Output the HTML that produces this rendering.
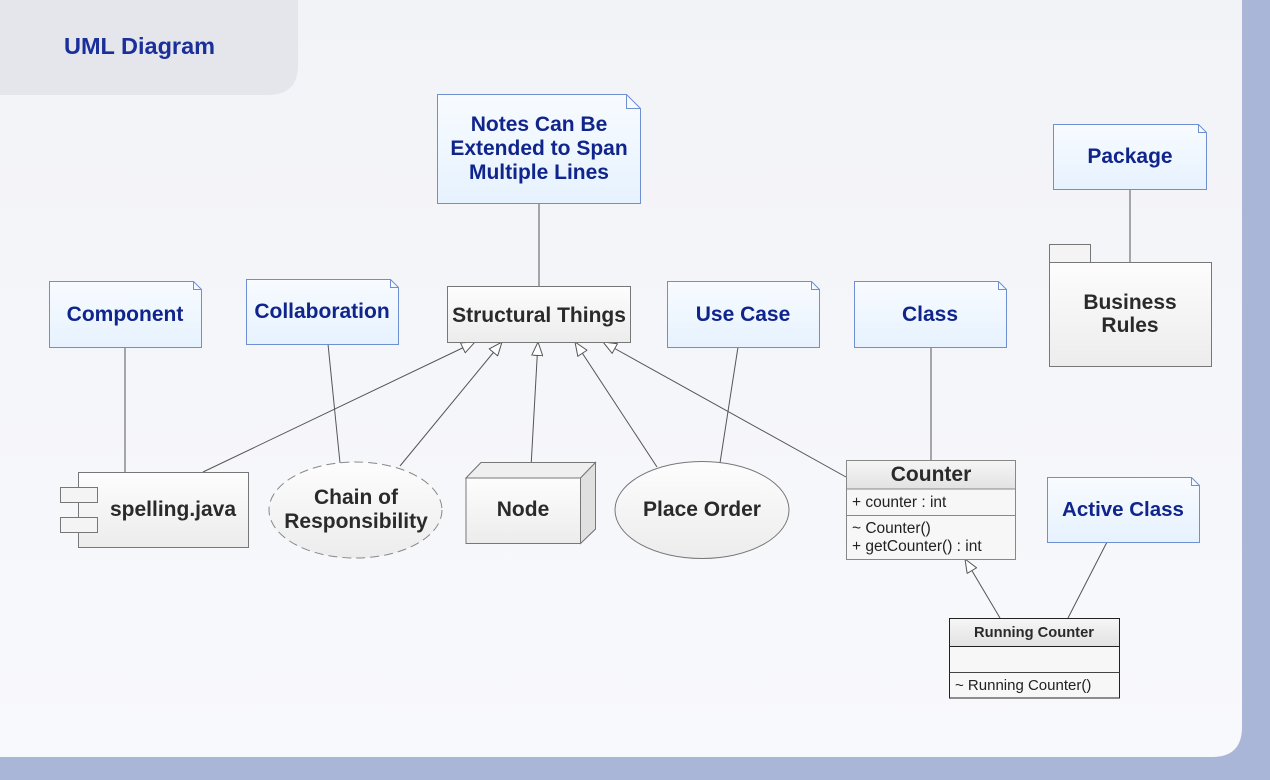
<!DOCTYPE html>
<html><head><meta charset="utf-8"><style>
html,body{margin:0;padding:0;width:1270px;height:780px;overflow:hidden;background:#aab6d7;}
svg{display:block;}
text{font-family:"Liberation Sans",Arial,sans-serif;}
.n{font-weight:bold;font-size:21px;fill:#10258c;text-anchor:middle;}
.b{font-weight:bold;font-size:21px;fill:#2a2a2a;text-anchor:middle;}
.m{font-size:15.5px;fill:#222;}
</style></head><body>
<svg width="1270" height="780" viewBox="0 0 1270 780" xmlns="http://www.w3.org/2000/svg">
<defs>
<linearGradient id="pg" x1="0" y1="0" x2="0" y2="1"><stop offset="0" stop-color="#f2f3f7"/><stop offset="1" stop-color="#f8f9fc"/></linearGradient>
<linearGradient id="ng" x1="0" y1="0" x2="0" y2="1"><stop offset="0" stop-color="#f8fbff"/><stop offset="1" stop-color="#e6f2fe"/></linearGradient>
<linearGradient id="bg" x1="0" y1="0" x2="0" y2="1"><stop offset="0" stop-color="#fdfdfd"/><stop offset="1" stop-color="#ececec"/></linearGradient>
<linearGradient id="hg" x1="0" y1="0" x2="0" y2="1"><stop offset="0" stop-color="#f6f6f6"/><stop offset="1" stop-color="#e2e2e2"/></linearGradient>
<marker id="ar" viewBox="0 0 14 12" refX="14" refY="6" markerWidth="14" markerHeight="12" orient="auto" markerUnits="userSpaceOnUse">
<path d="M0.5,0.5 L14,6 L0.5,11.5 z" fill="#fff" stroke="#555" stroke-width="1"/>
</marker>
</defs>
<!-- panel -->
<path d="M0,0 H1242 V727 Q1242,757 1212,757 H0 Z" fill="url(#pg)"/>
<!-- header tab -->
<path d="M0,0 H298 V65 Q298,95 268,95 H0 Z" fill="#e4e6eb"/>
<text x="64" y="54" style="font-weight:bold;font-size:23.5px;fill:#1a2f9a;">UML Diagram</text>

<!-- connectors -->
<g stroke="#555" stroke-width="1" fill="none">
<line x1="539" y1="203" x2="539" y2="286"/>
<line x1="125" y1="347" x2="125" y2="472"/>
<line x1="328" y1="344" x2="340" y2="463"/>
<line x1="738" y1="347" x2="720" y2="463"/>
<line x1="931" y1="347" x2="931" y2="460"/>
<line x1="1130" y1="189" x2="1130" y2="262"/>
<line x1="1107" y1="542" x2="1068" y2="618"/>
<line x1="203" y1="472" x2="475" y2="342" marker-end="url(#ar)"/>
<line x1="400" y1="466" x2="502" y2="342" marker-end="url(#ar)"/>
<line x1="531" y1="467" x2="538" y2="342" marker-end="url(#ar)"/>
<line x1="657" y1="467" x2="575" y2="342" marker-end="url(#ar)"/>
<line x1="846" y1="477" x2="603" y2="342" marker-end="url(#ar)"/>
<line x1="1000" y1="618" x2="965" y2="559" marker-end="url(#ar)"/>
</g>

<!-- notes -->
<g fill="url(#ng)" stroke="#6e8fd2" stroke-width="1">
<path d="M437.5,94.5 H626.5 L640.5,108.5 V203.5 H437.5 Z"/>
<path d="M1053.5,124.5 H1198.5 L1206.5,132.5 V189.5 H1053.5 Z"/>
<path d="M49.5,281.5 H193.5 L201.5,289.5 V347.5 H49.5 Z"/>
<path d="M246.5,279.5 H390.5 L398.5,287.5 V344.5 H246.5 Z"/>
<path d="M667.5,281.5 H811.5 L819.5,289.5 V347.5 H667.5 Z"/>
<path d="M854.5,281.5 H998.5 L1006.5,289.5 V347.5 H854.5 Z"/>
<path d="M1047.5,477.5 H1191.5 L1199.5,485.5 V542.5 H1047.5 Z"/>
</g>
<g fill="none" stroke="#6e8fd2" stroke-width="1">
<path d="M626.5,94.5 V108.5 H640.5"/>
<path d="M1198.5,124.5 V132.5 H1206.5"/>
<path d="M193.5,281.5 V289.5 H201.5"/>
<path d="M390.5,279.5 V287.5 H398.5"/>
<path d="M811.5,281.5 V289.5 H819.5"/>
<path d="M998.5,281.5 V289.5 H1006.5"/>
<path d="M1191.5,477.5 V485.5 H1199.5"/>
</g>
<text class="n" x="539" y="131">Notes Can Be</text>
<text class="n" x="539" y="155">Extended to Span</text>
<text class="n" x="539" y="179">Multiple Lines</text>
<text class="n" x="1130" y="163">Package</text>
<text class="n" x="125" y="321">Component</text>
<text class="n" x="322" y="318">Collaboration</text>
<text class="n" x="743" y="321">Use Case</text>
<text class="n" x="930" y="321">Class</text>
<text class="n" x="1123" y="516" style="font-size:20.5px">Active Class</text>

<!-- Structural Things -->
<rect x="447.5" y="286.5" width="183" height="56" fill="url(#bg)" stroke="#777"/>
<text class="b" x="539" y="322">Structural Things</text>

<!-- Business Rules package -->
<rect x="1049.5" y="244.5" width="41" height="18" fill="#f4f4f4" stroke="#777"/>
<rect x="1049.5" y="262.5" width="162" height="104" fill="url(#bg)" stroke="#777"/>
<text class="b" x="1130" y="309">Business</text>
<text class="b" x="1130" y="332">Rules</text>

<!-- spelling.java component -->
<rect x="78.5" y="472.5" width="170" height="75" fill="url(#bg)" stroke="#777"/>
<rect x="60.5" y="487.5" width="37" height="15" fill="#f4f4f4" stroke="#777"/>
<rect x="60.5" y="517.5" width="37" height="15" fill="#f4f4f4" stroke="#777"/>
<text class="b" x="173" y="516">spelling.java</text>

<!-- Chain of Responsibility -->
<ellipse cx="355.5" cy="510" rx="86.5" ry="48" fill="url(#bg)" stroke="#888" stroke-dasharray="9,5"/>
<text class="b" x="356" y="504">Chain of</text>
<text class="b" x="356" y="528">Responsibility</text>

<!-- Node -->
<path d="M466,478 L481,462.5 H595.5 V529 L580.5,543.5 Z" fill="#e6e6e6" stroke="#777"/>
<path d="M466,478 L481,462.5 H595.5 L580.5,478 Z" fill="#efefef" stroke="#777"/>
<path d="M580.5,478 L595.5,462.5 V529 L580.5,543.5 Z" fill="#e0e0e0" stroke="#777"/>
<rect x="466" y="478" width="114.5" height="65.5" fill="url(#bg)" stroke="#777"/>
<text class="b" x="523" y="516">Node</text>

<!-- Place Order -->
<ellipse cx="702" cy="510" rx="87" ry="48.5" fill="url(#bg)" stroke="#777"/>
<text class="b" x="702" y="516">Place Order</text>

<!-- Counter class -->
<rect x="846.5" y="460.5" width="169" height="99" fill="#f7f7f7" stroke="#888"/>
<rect x="846.5" y="460.5" width="169" height="28.5" fill="url(#hg)" stroke="#888"/>
<line x1="846.5" y1="515.5" x2="1015.5" y2="515.5" stroke="#888"/>
<text class="b" x="931" y="481">Counter</text>
<text class="m" x="852" y="507">+ counter : int</text>
<text class="m" x="852" y="533">~ Counter()</text>
<text class="m" x="852" y="551">+ getCounter() : int</text>

<!-- Running Counter -->
<rect x="949.5" y="618.5" width="170" height="79.5" fill="#f7f7f7" stroke="#222"/>
<rect x="949.5" y="618.5" width="170" height="28" fill="url(#hg)" stroke="#222"/>
<line x1="949.5" y1="672.5" x2="1119.5" y2="672.5" stroke="#444"/>
<text x="1034" y="637" style="font-weight:bold;font-size:14.7px;fill:#2a2a2a;text-anchor:middle;">Running Counter</text>
<text class="m" x="955" y="690" style="font-size:15px">~ Running Counter()</text>
</svg>
</body></html>
